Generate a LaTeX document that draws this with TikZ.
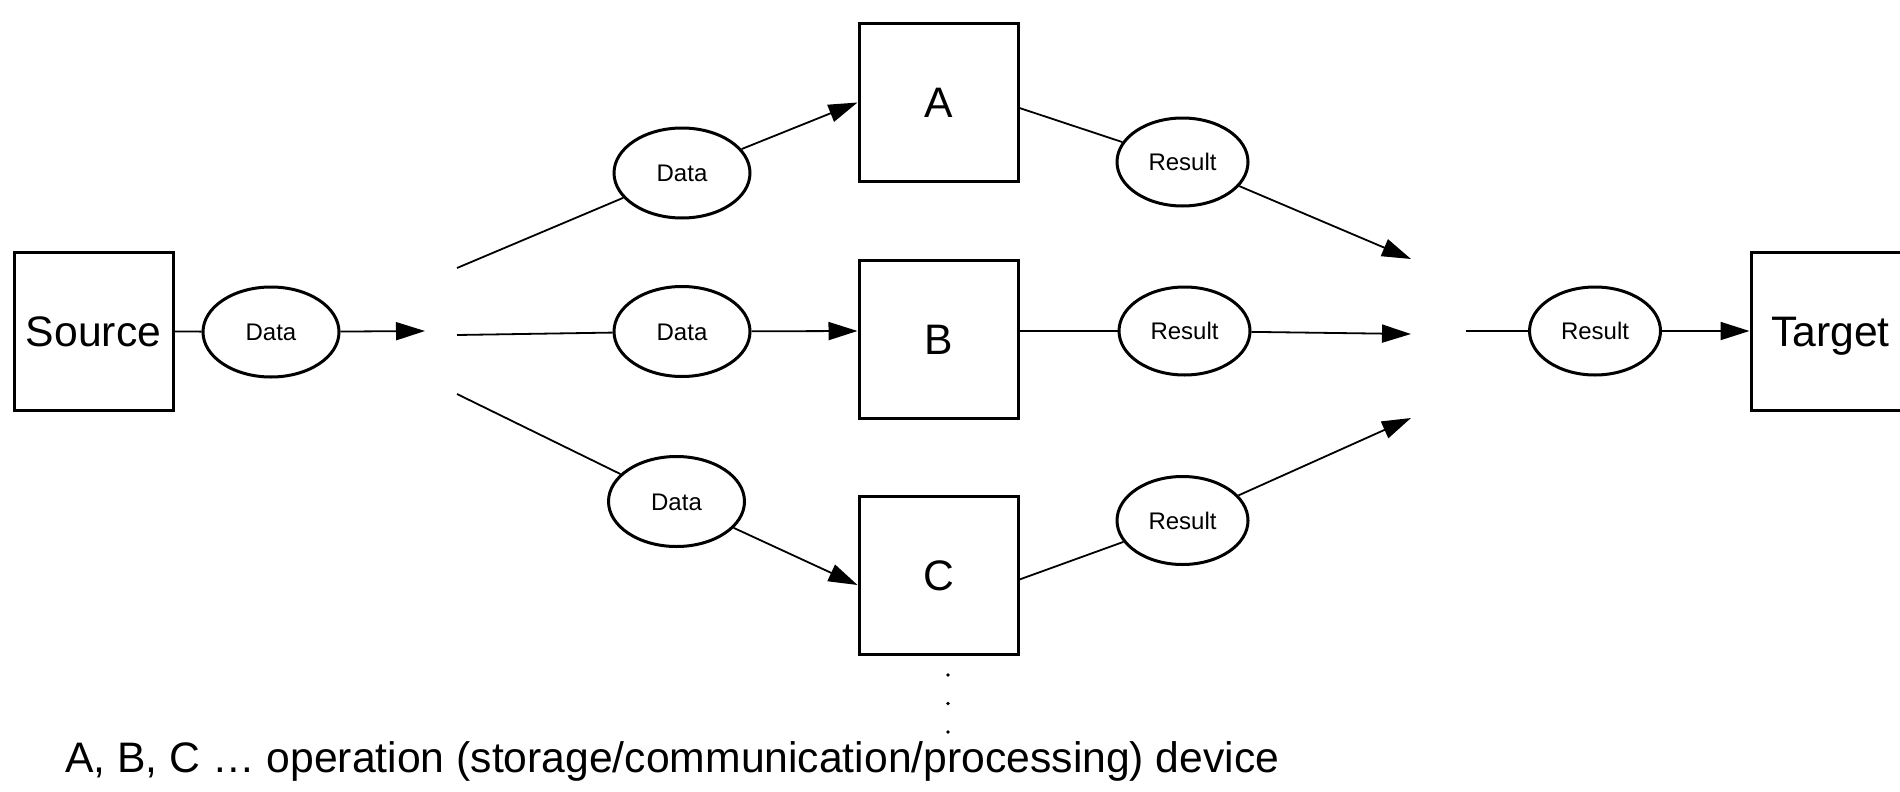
\documentclass[tikz,border=0pt]{standalone}
\usepackage{fontspec}
\setmainfont{Liberation Sans}
\usetikzlibrary{shapes.geometric,arrows.meta}
\tikzset{
  devbox/.style={draw, line width=3pt, minimum width=159pt, minimum height=158pt,
    inner sep=0pt, font=\fontsize{42.67}{50}\selectfont, text height=30.6pt, text depth=0pt},
  token/.style={draw, ellipse, line width=3pt, inner sep=0pt,
    font=\fontsize{24}{28}\selectfont, text height=17.2pt, text depth=0pt},
  datatok/.style={token, minimum width=136pt, minimum height=90pt},
  restok/.style={token, minimum width=131pt, minimum height=88pt},
  link/.style={line width=1.8pt},
  flow/.style={link, -{Triangle[length=29pt,width=18pt]}},
  dotmark/.style={fill, circle, inner sep=0pt, minimum size=3.6pt},
}
\begin{document}
\begin{tikzpicture}[x=1pt,y=-1pt]
\useasboundingbox (0,0) rectangle (1900,792);
\fill[white] (0,0) rectangle (1900,792);
\clip (0,0) rectangle (1900,792);

% devices
\node[devbox] (src) at (93.5,331) {Source};
\node[devbox] (A) at (938.5,102.5) {A};
\node[devbox] (B) at (938.5,339) {B};
\node[devbox] (C) at (938.5,575.5) {C};
\node[devbox] (tgt) at (1830.5,331) {Target};

% data tokens
\node[datatok] (d0) at (271,332) {Data};
\node[datatok] (d1) at (682,173) {Data};
\node[datatok] (d2) at (682,331.5) {Data};
\node[datatok] (d3) at (676.5,501.5) {Data};

% result tokens
\node[restok] (r1) at (1182.5,162) {Result};
\node[restok] (r2) at (1184.5,331) {Result};
\node[restok] (r3) at (1182.5,520.5) {Result};
\node[restok] (r4) at (1595,331) {Result};

% split and merge points
\coordinate (split) at (425,331);
\coordinate (fa) at (457,268);
\coordinate (fb) at (457,335);
\coordinate (fc) at (457,394);
\coordinate (ma) at (1411,259);
\coordinate (mb) at (1411,334);
\coordinate (mc) at (1411,418);
\coordinate (mout) at (1466,331);

% source side
\draw[link] (src) -- (d0);
\draw[flow] (d0) -- (split);

% fan out to devices
\draw[link] (fa) -- (d1);
\draw[flow] (d1) -- (A.west);
\draw[link] (fb) -- (d2);
\draw[flow] (d2) -- ([yshift=8pt]B.west);
\draw[link] (fc) -- (d3);
\draw[flow] (d3) -- ([yshift=-9.5pt]C.west);

% fan in from devices
\draw[link] ([yshift=-5.5pt]A.east) -- (r1);
\draw[flow] (r1) -- (ma);
\draw[link] ([yshift=8pt]B.east) -- (r2);
\draw[flow] (r2) -- (mb);
\draw[link] ([yshift=-4pt]C.east) -- (r3);
\draw[flow] (r3) -- (mc);

% target side
\draw[link] (mout) -- (r4);
\draw[flow] (r4) -- (tgt.west);

% more devices below
\node[dotmark] (dotA) at (948,675) {};
\node[dotmark] (dotB) at (948,703.5) {};
\node[dotmark] (dotC) at (948,732) {};

% legend
\node[anchor=base west, inner sep=0pt, font=\fontsize{42.67}{50}\selectfont] (legend) at (65,772)
  {A, B, C … operation (storage/communication/processing) device};
\end{tikzpicture}
\end{document}
